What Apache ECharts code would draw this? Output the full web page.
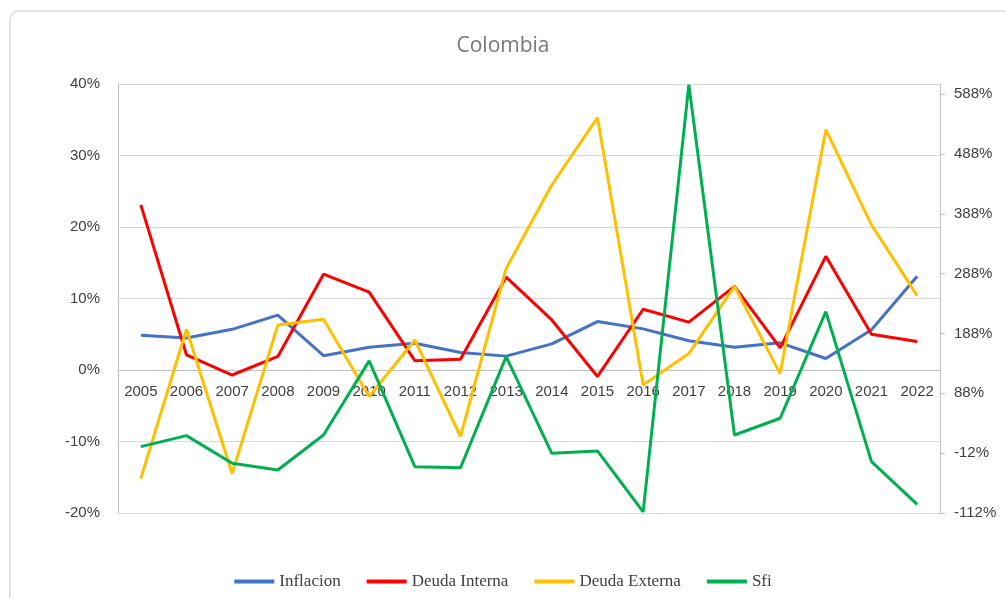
<!DOCTYPE html>
<html>
<head>
<meta charset="utf-8">
<script src="https://cdn.jsdelivr.net/npm/echarts@6/dist/echarts.min.js"></script>
<style>
  html, body { margin: 0; padding: 0; background: #fff; overflow: hidden; }
  #frame {
    position: absolute; left: 9px; top: 10px; width: 1020px; height: 640px;
    border: 2px solid #e3e3e3; border-radius: 10px; box-sizing: border-box;
  }
  #chart { position: absolute; left: 0; top: 0; width: 1006px; height: 598px; }
</style>
</head>
<body>
<div id="frame"></div>
<div id="chart"></div>
<script>
// Años
const years = ['2005','2006','2007','2008','2009','2010','2011','2012','2013',
               '2014','2015','2016','2017','2018','2019','2020','2021','2022'];

// Variación anual (%), eje izquierdo
const inflacion    = [4.85, 4.48, 5.69, 7.67, 2.00, 3.17, 3.73, 2.44, 1.94,
                      3.66, 6.77, 5.75, 4.09, 3.18, 3.80, 1.61, 5.62, 13.12];
const deudaInterna = [23.1, 2.1, -0.7, 1.9, 13.4, 10.9, 1.3, 1.5, 13.0,
                      7.0, -0.9, 8.5, 6.7, 11.7, 3.1, 15.9, 5.0, 4.0];
const deudaExterna = [-15.2, 5.7, -14.5, 6.3, 7.1, -3.7, 4.2, -9.3, 14.2,
                      25.9, 35.3, -2.1, 2.3, 11.7, -0.5, 33.6, 20.3, 10.4];

// Variación anual (%), eje derecho
const sfi = [-1.1, 17.3, -28.9, -40.1, 18.4, 142.2, -34.5, -36.3, 149.4,
             -12.2, -8.3, -110, 604, 18.4, 46.4, 224.6, -26.2, -97.5];

// Marcas de los ejes
const leftTicks  = [-20, -10, 0, 10, 20, 30, 40];
const rightTicks = [-112, -12, 88, 188, 288, 388, 488, 588];

const LEFT_MIN = -20, LEFT_MAX = 40;
const GRID_TOP = 84, GRID_BOTTOM = 85, CHART_H = 598;

const chart = echarts.init(document.getElementById('chart'));

const axisFont = { fontFamily: 'Liberation Sans', fontSize: 15, color: '#404040' };

// El eje de categorías se dibuja sobre el 0 % del eje izquierdo
const gridH = CHART_H - GRID_TOP - GRID_BOTTOM;
const zeroOffset = -gridH * (0 - LEFT_MIN) / (LEFT_MAX - LEFT_MIN);

const lineSeries = (name, data, color, yAxisIndex) => ({
  name, type: 'line', data, yAxisIndex,
  symbol: 'none', smooth: false,
  lineStyle: { color, width: 3 },
  itemStyle: { color },
  z: 3
});

chart.setOption({
  animation: false,
  title: {
    text: 'Colombia',
    left: 'center', top: 31,
    textStyle: { fontFamily: 'Open Sans', fontSize: 21, fontWeight: 'normal', color: '#787878' }
  },
  grid: { left: 118, right: 66, top: GRID_TOP, bottom: GRID_BOTTOM, containLabel: false },
  legend: {
    left: 'center', top: 568,
    icon: 'rect', itemWidth: 40, itemHeight: 4, itemGap: 26,
    textStyle: { fontFamily: 'Liberation Serif', fontSize: 17, color: '#404040' },
    data: ['Inflacion', 'Deuda Interna', 'Deuda Externa', 'Sfi']
  },
  xAxis: {
    type: 'category', data: years, boundaryGap: true,
    position: 'bottom', offset: zeroOffset,
    axisLine: { onZero: false, lineStyle: { color: '#bfbfbf', width: 1 } },
    axisTick: { show: false },
    axisLabel: Object.assign({ margin: 14, interval: 0 }, axisFont),
    splitLine: { show: false }
  },
  yAxis: [
    {
      type: 'value', min: LEFT_MIN, max: LEFT_MAX, interval: 10,
      axisLine: { show: true, lineStyle: { color: '#bfbfbf', width: 1 } },
      axisTick: { show: false },
      axisLabel: Object.assign({ margin: 18, formatter: v => v + '%',
                                 customValues: leftTicks }, axisFont),
      splitLine: { show: true, lineStyle: { color: '#d9d9d9', width: 1 } }
    },
    {
      type: 'value', min: -112, max: 605, position: 'right',
      axisLine: { show: true, lineStyle: { color: '#bfbfbf', width: 1 } },
      axisTick: { show: true, inside: false, length: 5, customValues: rightTicks,
                  lineStyle: { color: '#bfbfbf' } },
      axisLabel: Object.assign({ margin: 14, formatter: v => v + '%',
                                 customValues: rightTicks }, axisFont),
      splitLine: { show: false }
    }
  ],
  series: [
    lineSeries('Inflacion', inflacion, '#4472C4', 0),
    lineSeries('Deuda Interna', deudaInterna, '#FF0000', 0),
    lineSeries('Deuda Externa', deudaExterna, '#FFC000', 0),
    lineSeries('Sfi', sfi, '#00B050', 1)
  ]
});
</script>
</body>
</html>
